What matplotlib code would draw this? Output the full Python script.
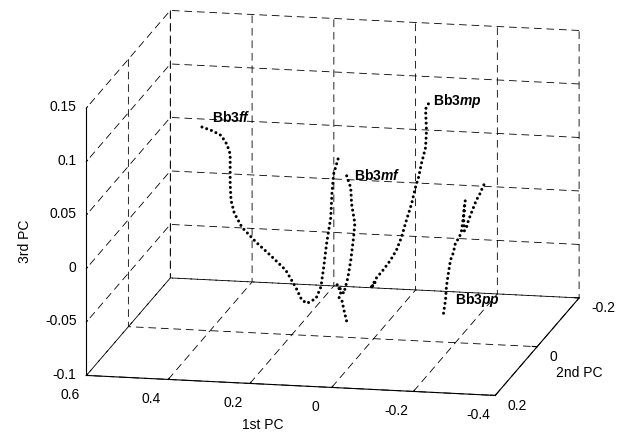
import matplotlib

matplotlib.use("Agg")
import matplotlib.pyplot as plt
import numpy as np

plt.rcParams["font.family"] = ["Liberation Sans", "DejaVu Sans"]
plt.rcParams["lines.scale_dashes"] = False
plt.rcParams["mathtext.fontset"] = "custom"
plt.rcParams["mathtext.rm"] = "Liberation Sans"
plt.rcParams["mathtext.bf"] = "Liberation Sans:bold"
plt.rcParams["mathtext.it"] = "Liberation Sans:italic"
plt.rcParams["mathtext.bfit"] = "Liberation Sans:italic:bold"

# trajectories in PC space (1st, 2nd, 3rd PC)
ff_pc1 = [0.420, 0.395, 0.373, 0.359, 0.351, 0.351, 0.351, 0.349, 0.341, 0.322, 0.288, 0.249,
          0.215, 0.190, 0.176, 0.163, 0.141, 0.129, 0.122, 0.115, 0.105, 0.102, 0.098, 0.085]
ff_pc2 = [0.0] * len(ff_pc1)
ff_pc3 = [0.090, 0.087, 0.083, 0.075, 0.066, 0.053, 0.038, 0.023, 0.011, -0.002, -0.015, -0.028,
          -0.040, -0.056, -0.067, -0.070, -0.065, -0.054, -0.035, -0.013, 0.011, 0.034, 0.052, 0.069]

mf_pc1 = [0.066, 0.056, 0.054, 0.046, 0.049, 0.056, 0.063, 0.073, 0.090, 0.080, 0.085, 0.078,
          0.073, 0.066]
mf_pc2 = [0.0] * len(mf_pc1)
mf_pc3 = [0.051, 0.040, 0.025, 0.007, -0.006, -0.028, -0.044, -0.059, -0.051, -0.058, -0.063,
          -0.065, -0.074, -0.085]

mp_pc1 = [-0.134, -0.127, -0.129, -0.129, -0.127, -0.117, -0.110, -0.102, -0.093, -0.080, -0.068,
          -0.056, -0.041, -0.024, -0.007, 0.007, -0.004, 0.007]
mp_pc2 = [0.0] * len(mp_pc1)
mp_pc3 = [0.122, 0.117, 0.099, 0.095, 0.081, 0.066, 0.053, 0.043, 0.028, 0.012, -0.004,
          -0.016, -0.026, -0.035, -0.043, -0.053, -0.047, -0.053]

pp_pc1 = [-0.171, -0.176, -0.178, -0.183, -0.188, -0.195, -0.200, -0.210, -0.215, -0.220, -0.222,
          -0.224, -0.220, -0.222, -0.227, -0.232, -0.239, -0.244, -0.251, -0.261, -0.268, -0.276]
pp_pc2 = [0.0] * len(pp_pc1)
pp_pc3 = [-0.073, -0.060, -0.048, -0.035, -0.023, -0.016, -0.007, -0.001, 0.005, 0.019, 0.029,
          0.033, 0.017, 0.005, 0.008, 0.015, 0.022, 0.027, 0.034, 0.041, 0.048, 0.052]

labels = [r"Bb3$\mathbfit{ff}$", r"Bb3$\mathbfit{mf}$", r"Bb3$\mathbfit{mp}$", r"Bb3$\mathbfit{pp}$"]
label_pos = [(0.395, 0.0, 0.099), (0.049, 0.0, 0.0515), (-0.146, 0.0, 0.125), (-0.200, 0.0, -0.060)]

x_ticks = [0.6, 0.4, 0.2, 0.0, -0.2, -0.4]
x_ticklabels = ["0.6", "0.4", "0.2", "0", "-0.2", "-0.4"]
y_ticks = [-0.2, 0.0, 0.2]
y_ticklabels = ["-0.2", "0", "0.2"]
z_ticks = [-0.1, -0.05, 0.0, 0.05, 0.1, 0.15]
z_ticklabels = ["-0.1", "-0.05", "0", "0.05", "0.1", "0.15"]

fig = plt.figure(figsize=(6.25, 4.36), dpi=100)
ax = fig.add_axes([0.023, 0.021, 1.0, 1.0], projection="3d", proj_type="ortho")
ax.view_init(elev=13.8, azim=101.6)
ax.set_box_aspect((1, 1, 0.66), zoom=1.45)

dot_style = dict(color="k", linewidth=2.2, linestyle=(0, (0.01, 3.6)), dash_capstyle="round")
for xs, ys, zs in [(ff_pc1, ff_pc2, ff_pc3), (mf_pc1, mf_pc2, mf_pc3),
                   (mp_pc1, mp_pc2, mp_pc3), (pp_pc1, pp_pc2, pp_pc3)]:
    ax.plot(xs, ys, zs, **dot_style)

for text, (lx, ly, lz) in zip(labels, label_pos):
    ax.text(lx, ly, lz, text, fontsize=10, fontweight="bold", ha="left", va="center")

ax.set_xlim(-0.4, 0.6)
ax.set_ylim(-0.2, 0.2)
ax.set_zlim(-0.1, 0.15)
ax.set_xticks(x_ticks)
ax.set_yticks(y_ticks)
ax.set_zticks(z_ticks)
ax.zaxis.set_ticks_position("upper")

# tick labels placed just outside the box edges, as MATLAB draws them
for xt, lab in zip(x_ticks, x_ticklabels):
    ax.text(xt, 0.28, -0.1, lab, fontsize=10, ha="center", va="center")
for yt, lab in zip(y_ticks, y_ticklabels):
    ax.text(-0.43, yt, -0.109, lab, fontsize=10, ha="left", va="center")
for zt, lab in zip(z_ticks, z_ticklabels):
    ax.text(0.624, 0.2, zt, lab, fontsize=10, ha="right", va="center")

for axis in (ax.xaxis, ax.yaxis, ax.zaxis):
    axis.set_tick_params(labelbottom=False, labelleft=False, labeltop=False, labelright=False)
    axis.label.set_visible(False)
    axis.set_pane_color((1, 1, 1, 0))
    axis.pane.set_edgecolor((1, 1, 1, 0))
    axis._axinfo["grid"].update(color="k", linewidth=0.6, linestyle=(0, (5.5, 3.5)))
    axis._axinfo["tick"]["inward_factor"] = 0.0
    axis._axinfo["tick"]["outward_factor"] = 0.15
    axis.line.set_linewidth(0.8)

fig.text(0.42, 0.025, "1st PC", fontsize=10, ha="center", va="center")
fig.text(0.926, 0.144, "2nd PC", fontsize=10, ha="center", va="center")
fig.text(0.04, 0.447, "3rd PC", fontsize=10, ha="center", va="center", rotation=90)

fig.savefig("out.png", dpi=100)
